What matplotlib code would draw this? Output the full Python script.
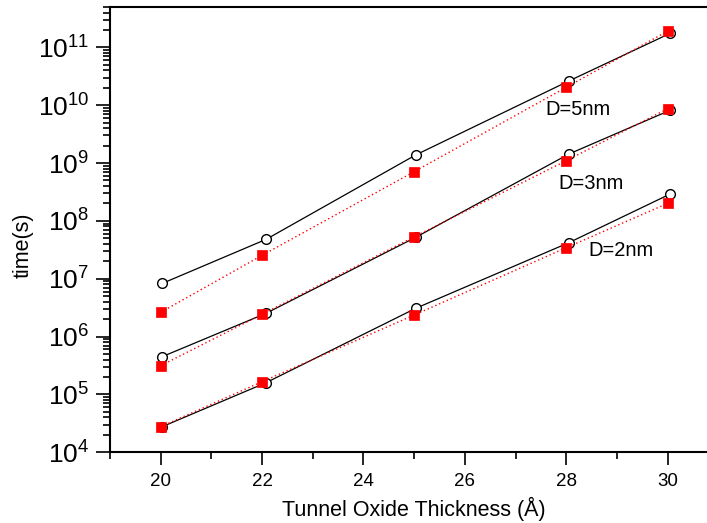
import matplotlib
matplotlib.use("Agg")
import matplotlib.pyplot as plt
from matplotlib.ticker import LogLocator, MultipleLocator, NullFormatter

plt.rcParams["font.family"] = ["Liberation Sans", "DejaVu Sans"]
plt.rcParams["mathtext.fontset"] = "custom"
plt.rcParams["mathtext.rm"] = "Liberation Sans"
plt.rcParams["mathtext.it"] = "Liberation Sans:italic"

# tunnel oxide thickness (angstrom)
thickness = [20, 22, 25, 28, 30]
thickness_circ = [20.03, 22.08, 25.03, 28.05, 30.05]

# retention time (s), open circles (solid black) and filled squares (dotted red)
t_5nm_circ = [8.3e6, 4.8e7, 1.38e9, 2.62e10, 1.75e11]
t_5nm_sq = [2.63e6, 2.54e7, 7.1e8, 2.04e10, 1.91e11]
t_3nm_circ = [4.5e5, 2.53e6, 5.2e7, 1.43e9, 8.2e9]
t_3nm_sq = [3.14e5, 2.43e6, 5.3e7, 1.1e9, 8.7e9]
t_2nm_circ = [2.77e4, 1.6e5, 3.08e6, 4.2e7, 2.92e8]
t_2nm_sq = [2.77e4, 1.66e5, 2.36e6, 3.44e7, 2.01e8]

labels = ["D=5nm", "D=3nm", "D=2nm"]
label_x = [27.59, 27.85, 28.44]
label_y = [10**9.83, 10**8.546, 10**7.393]

fig = plt.figure(figsize=(7.07, 5.23), dpi=100)
ax = fig.add_axes([0.1556, 0.1352, 0.8605, 0.8516])

for yc in (t_5nm_circ, t_3nm_circ, t_2nm_circ):
    ax.plot(thickness_circ, yc, color="black", lw=0.9, marker="o", ms=7,
            mfc="white", mec="black", mew=1.0, zorder=2)
for ys in (t_5nm_sq, t_3nm_sq, t_2nm_sq):
    ax.plot(thickness, ys, color="red", lw=1.0, linestyle=(0, (1, 2)),
            marker="s", ms=6.5, mfc="red", mec="red", mew=0.5, zorder=3)

for txt, lx, ly in zip(labels, label_x, label_y):
    ax.text(lx, ly, txt, fontsize=14.5, ha="left", va="baseline")

ax.set_yscale("log")
ax.set_xlim(19, 31)
ax.set_ylim(1e4, 5e11)

ax.xaxis.set_major_locator(MultipleLocator(2))
ax.xaxis.set_minor_locator(MultipleLocator(1))
ax.yaxis.set_major_locator(LogLocator(base=10, numticks=20))
ax.yaxis.set_minor_locator(LogLocator(base=10, subs=range(2, 10), numticks=20))
ax.yaxis.set_minor_formatter(NullFormatter())

ax.tick_params(axis="x", which="major", direction="out", length=9, width=1.2,
               labelsize=13.5, pad=6)
ax.tick_params(axis="x", which="minor", direction="out", length=5, width=1.2)
ax.tick_params(axis="y", which="major", direction="out", length=10, width=1.2,
               labelsize=19, pad=5)
ax.tick_params(axis="y", which="minor", direction="out", length=5, width=1.2)
ax.tick_params(top=False, right=False, which="both")

for side in ("left", "bottom", "top"):
    ax.spines[side].set_linewidth(1.5)
ax.spines["right"].set_visible(False)

ax.set_xlabel("Tunnel Oxide Thickness (Å)", fontsize=15.5, labelpad=5)
fig.text(23 / 707, 1 - 245 / 523, "time(s)", rotation=90, fontsize=15.5,
         ha="center", va="center")

fig.savefig("out.png", dpi=100)
